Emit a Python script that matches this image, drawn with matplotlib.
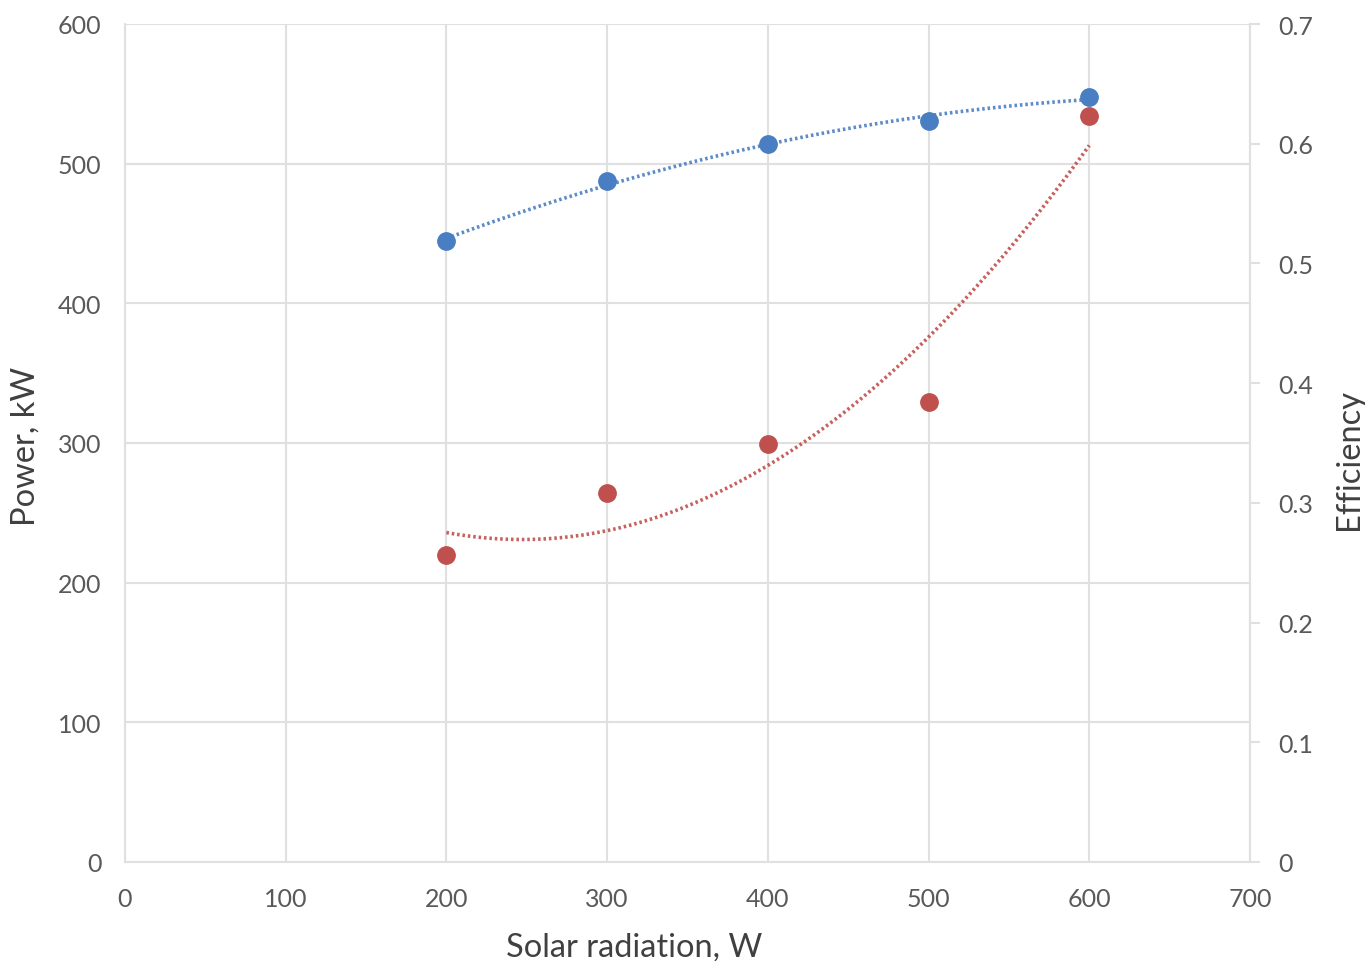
import numpy as np
import matplotlib
matplotlib.use("Agg")
import matplotlib.pyplot as plt

# Data
radiation = [200, 300, 400, 500, 600]
power_kw = [220, 264, 299, 329, 534]              # red series (left axis)
efficiency = [0.519, 0.569, 0.600, 0.619, 0.639]  # blue series (right axis)

x_ticks = [0, 100, 200, 300, 400, 500, 600, 700]
power_ticks = [0, 100, 200, 300, 400, 500, 600]
eff_ticks = [0, 0.1, 0.2, 0.3, 0.4, 0.5, 0.6, 0.7]
eff_tick_labels = ["0", "0.1", "0.2", "0.3", "0.4", "0.5", "0.6", "0.7"]

plt.rcParams['font.family'] = ['Lato', 'DejaVu Sans']

RED = "#C0504D"
BLUE = "#4A7EC2"
GRID = "#e0e0e0"
TICK = "#595959"
LABEL = "#404040"

fig = plt.figure(figsize=(13.65, 9.62), dpi=100)
ax = fig.add_axes([125/1365, 1 - 863/962, 1125/1365, 838/962])
ax2 = ax.twinx()

ax.set_xlim(0, 700)
ax.set_ylim(0, 600)
ax2.set_ylim(0, 0.7)

ax.set_xticks(x_ticks)
ax.set_yticks(power_ticks)
ax2.set_yticks(eff_ticks)
ax2.set_yticklabels(eff_tick_labels)

ax.grid(True, color=GRID, linewidth=1.5)
ax.set_axisbelow(True)

for s in ["top"]:
    ax.spines[s].set_visible(False)
    ax2.spines[s].set_visible(False)
ax2.spines["left"].set_visible(False)
ax2.spines["bottom"].set_visible(False)
ax.spines["right"].set_visible(False)
for s in ["left", "bottom"]:
    ax.spines[s].set_color(GRID)
    ax.spines[s].set_linewidth(1.5)
ax2.spines["right"].set_color(GRID)
ax2.spines["right"].set_linewidth(1.5)

ax.tick_params(axis="both", length=0, labelsize=18, labelcolor=TICK)
ax.tick_params(axis="y", pad=17)
ax.tick_params(axis="x", pad=18)
ax2.tick_params(axis="y", length=7, width=1.5, color=GRID, labelsize=18,
                labelcolor=TICK, pad=13)

# trendlines (2nd order polynomial fits of the data, as in the source)
xs = np.linspace(radiation[0], radiation[-1], 200)
cp = np.polyfit(radiation, power_kw, 2)
ce = np.polyfit(radiation, efficiency, 2)
ax.plot(xs, np.polyval(cp, xs), linestyle=(0, (0.7, 0.8)), color=RED,
        linewidth=2.6, alpha=0.9)
ax2.plot(xs, np.polyval(ce, xs), linestyle=(0, (0.7, 0.8)), color=BLUE,
         linewidth=2.6, alpha=0.9)

ax.plot(radiation, power_kw, "o", color=RED, markersize=12.5, zorder=5)
ax2.plot(radiation, efficiency, "o", color=BLUE, markersize=12.5, zorder=5)

ax.set_xlabel("Solar radiation, W", fontsize=23.5, color=LABEL)
ax.xaxis.set_label_coords(0.453, -0.083)
ax.set_ylabel("Power, kW", fontsize=23.5, color=LABEL)
ax.yaxis.set_label_coords(-0.075, 0.497)
ax2.set_ylabel("Efficiency", fontsize=23.5, color=LABEL)
ax2.yaxis.set_label_coords(1.0745, 0.481)

fig.savefig("out.png", dpi=100)
